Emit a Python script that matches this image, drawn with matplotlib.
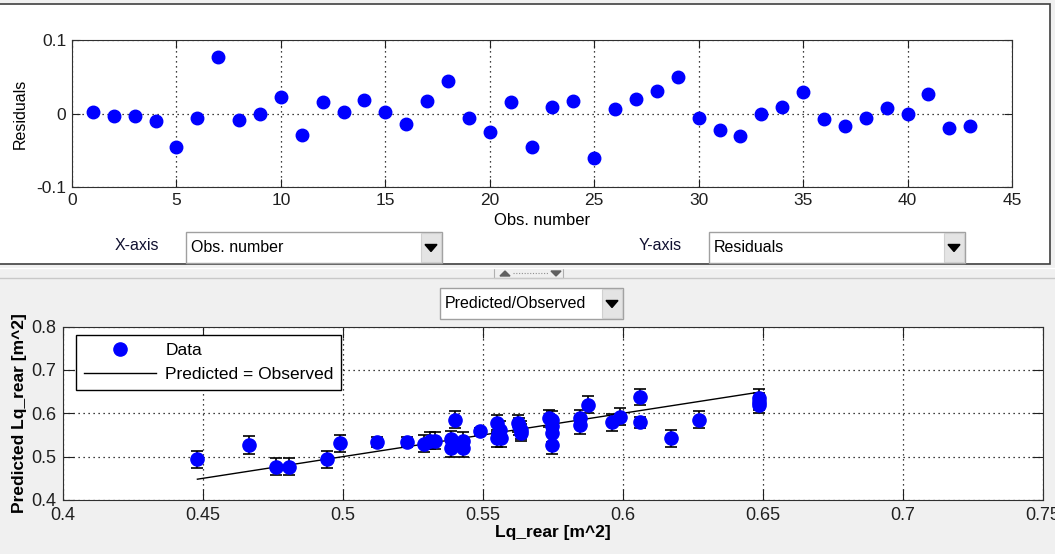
import matplotlib.pyplot as plt
from matplotlib.patches import Rectangle, Polygon
from matplotlib.lines import Line2D

plt.rcParams['font.family'] = ['Liberation Sans', 'DejaVu Sans']

# Residuals per observation
obs_number = list(range(1, 44))
residuals = [0.002, -0.003, -0.003, -0.010, -0.046, -0.006, 0.077, -0.009, -0.001, 0.022,
             -0.029, 0.016, 0.002, 0.019, 0.002, -0.014, 0.017, 0.044, -0.006, -0.025,
             0.015, -0.045, 0.009, 0.017, -0.060, 0.006, 0.020, 0.031, 0.049, -0.006,
             -0.022, -0.031, 0.000, 0.009, 0.029, -0.007, -0.017, -0.006, 0.007, 0.000,
             0.027, -0.020, -0.017]

# Predicted vs observed
observed = [0.448, 0.4665, 0.476, 0.4806, 0.4943, 0.499, 0.512, 0.523, 0.529, 0.531,
            0.533, 0.5385, 0.5385, 0.540, 0.543, 0.543, 0.549, 0.555, 0.555, 0.556,
            0.5566, 0.5625, 0.5635, 0.563, 0.5635, 0.5735, 0.5745, 0.5745, 0.5745, 0.5745,
            0.5846, 0.5846, 0.5875, 0.596, 0.599, 0.606, 0.606, 0.617, 0.627, 0.6485,
            0.6485, 0.6485, 0.5555]
predicted = [0.494, 0.527, 0.477, 0.477, 0.494, 0.531, 0.534, 0.534, 0.530, 0.537,
             0.537, 0.540, 0.519, 0.585, 0.536, 0.519, 0.558, 0.577, 0.542, 0.561,
             0.542, 0.577, 0.561, 0.570, 0.555, 0.588, 0.585, 0.571, 0.554, 0.527,
             0.588, 0.573, 0.620, 0.579, 0.592, 0.637, 0.579, 0.542, 0.585, 0.635,
             0.627, 0.620, 0.553]
pred_err = [0.02, 0.02, 0.02, 0.02, 0.02, 0.02, 0.011, 0.011, 0.02, 0.02,
            0.02, 0.02, 0.02, 0.02, 0.02, 0.02, 0.009, 0.02, 0.02, 0.02,
            0.02, 0.02, 0.02, 0.02, 0.02, 0.02, 0.02, 0.02, 0.02, 0.02,
            0.02, 0.02, 0.02, 0.02, 0.02, 0.018, 0.012, 0.02, 0.02, 0.02,
            0.02, 0.02, 0.02]
line_x = [min(observed), max(observed)]

W, H = 1055, 554
fig = plt.figure(figsize=(W / 100, H / 100), dpi=100)
fig.patch.set_facecolor('#f0f0f0')


def fx(x):
    return x / W


def fy(y):
    return 1 - y / H


def box(x0, y0, x1, y1, z=1, **kw):
    fig.patches.append(Rectangle((fx(x0), fy(y1)), fx(x1 - x0), (y1 - y0) / H,
                                 transform=fig.transFigure, figure=fig, zorder=z, **kw))


def tri(pts, color, z=2):
    fig.patches.append(Polygon([(fx(a), fy(b)) for a, b in pts],
                               transform=fig.transFigure, figure=fig, color=color, zorder=z))


def hline(x0, x1, y, **kw):
    fig.lines.append(Line2D([fx(x0), fx(x1)], [fy(y), fy(y)], transform=fig.transFigure, figure=fig, **kw))


# GUI panels (kept behind the axes)
box(-2, 4, 1050, 264, z=-10, facecolor='white', edgecolor='#404040', linewidth=1.2)
hline(0, 1055, 268, color='white', linewidth=1)
hline(0, 1055, 278, color='#c8c8c8', linewidth=1)
box(494, 268, 563, 278, facecolor='#f0f0f0', edgecolor='#b0b0b0', linewidth=0.8)
tri([(500, 276), (510, 276), (505, 271)], '#606060')
tri([(551, 271), (561, 271), (556, 276)], '#606060')
hline(513, 548, 273, color='#909090', linewidth=0.8, linestyle=(0, (1, 1.5)))


def combo(x0, y0, x1, y1, label):
    box(x0, y0, x1, y1, facecolor='white', edgecolor='#a0a0a0', linewidth=1)
    box(x1 - 21, y0 + 1, x1 - 1, y1 - 1, z=2, facecolor='#e4e4e4', edgecolor='#d0d0d0', linewidth=0.8)
    cx, cy = x1 - 11, (y0 + y1) / 2
    tri([(cx - 6, cy - 3), (cx + 6, cy - 3), (cx, cy + 4)], 'black', z=3)
    fig.text(fx(x0 + 5), fy((y0 + y1) / 2), label, fontsize=11.5, va='center', ha='left')


combo(186, 232, 442, 263, 'Obs. number')
combo(709, 232, 965, 263, 'Residuals')
combo(440, 288, 623, 319, 'Predicted/Observed')
fig.text(fx(137), fy(246), 'X-axis', fontsize=11.5, va='center', ha='center', color='#101030')
fig.text(fx(660), fy(246), 'Y-axis', fontsize=11.5, va='center', ha='center', color='#101030')

grid_kw = dict(color='black', linestyle=(0, (1, 3)), linewidth=0.9)

# Top: residuals
ax1 = fig.add_axes([fx(72), fy(187), fx(1012 - 72), (187 - 40) / H])
ax1.plot(obs_number, residuals, 'o', color='blue', markersize=9, zorder=3)
ax1.set_xlim(0, 45)
ax1.set_ylim(-0.1, 0.1)
ax1.set_xticks(range(0, 46, 5))
ax1.set_yticks([-0.1, 0, 0.1])
ax1.set_yticklabels(['-0.1', '0', '0.1'])
ax1.grid(True, **grid_kw)
ax1.tick_params(direction='in', top=True, right=True, length=6, labelsize=12.5, colors='#202020', pad=4)
ax1.set_xlabel('Obs. number', fontsize=12, labelpad=4)
ax1.set_ylabel('Residuals', fontsize=11.5, labelpad=6)
for s in ax1.spines.values():
    s.set_color('#303030')

# Bottom: predicted vs observed
ax2 = fig.add_axes([fx(63), fy(500), fx(1043 - 63), (500 - 326.5) / H])
ax2.errorbar(observed, predicted, yerr=pred_err, fmt='o', color='blue', ecolor='black',
             elinewidth=1.2, capsize=4.5, capthick=1.2, markersize=9.5, zorder=3)
ax2.plot(line_x, line_x, color='black', linewidth=1)
ax2.set_xlim(0.4, 0.75)
ax2.set_ylim(0.4, 0.8)
ax2.set_xticks([0.4, 0.45, 0.5, 0.55, 0.6, 0.65, 0.7, 0.75])
ax2.set_xticklabels(['0.4', '0.45', '0.5', '0.55', '0.6', '0.65', '0.7', '0.75'])
ax2.set_yticks([0.4, 0.5, 0.6, 0.7, 0.8])
ax2.grid(True, **grid_kw)
ax2.tick_params(direction='in', top=True, right=True, length=8, labelsize=13, colors='#202020', pad=5)
ax2.set_xlabel('Lq_rear [m^2]', fontsize=12.5, fontweight='bold', labelpad=1)
ax2.set_ylabel('Predicted Lq_rear [m^2]', fontsize=12.5, fontweight='bold', labelpad=3)
for s in ax2.spines.values():
    s.set_color('#303030')
handles = [Line2D([], [], marker='o', linestyle='none', color='blue', markersize=9.5),
           Line2D([], [], color='black', linewidth=1)]
leg = ax2.legend(handles, ['Data', 'Predicted = Observed'], loc='upper left', fontsize=12.5,
                 fancybox=False, edgecolor='black', framealpha=1, borderpad=0.45,
                 handlelength=4.2, handletextpad=0.5, borderaxespad=0,
                 bbox_to_anchor=(0.013, 0.951))
leg.get_frame().set_linewidth(1)

fig.savefig('out.png', dpi=100, facecolor=fig.get_facecolor())
